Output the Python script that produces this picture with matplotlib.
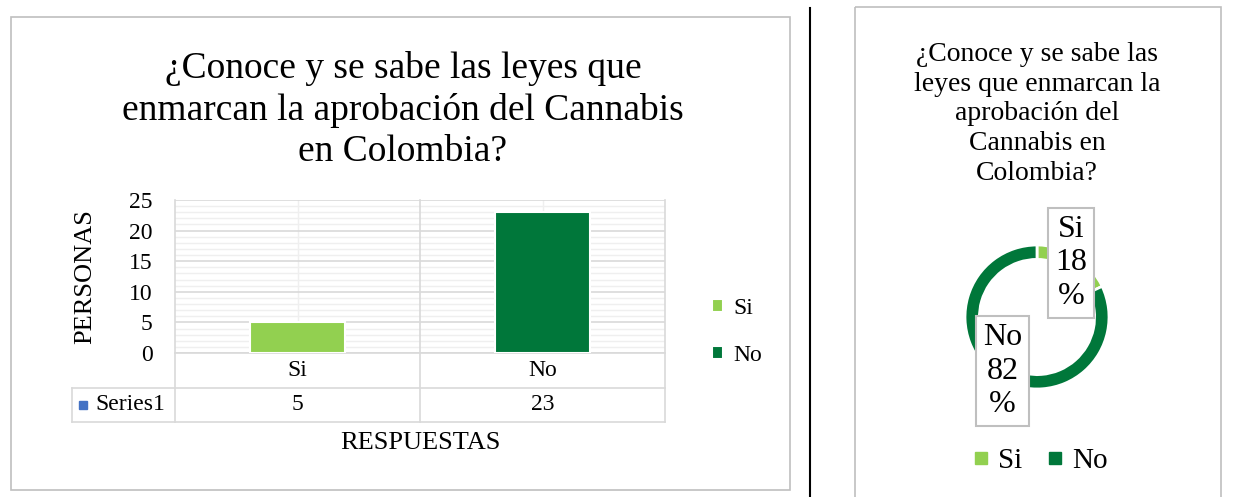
#!/usr/bin/env python3
"""Bar chart + donut for '¿Conoce y se sabe las leyes...' survey question."""

import matplotlib

matplotlib.use("Agg")
import matplotlib.pyplot as plt
from matplotlib.lines import Line2D
from matplotlib.patches import Rectangle
from matplotlib.transforms import blended_transform_factory
import numpy as np

W, H = 1259, 497

categories = ["Si", "No"]
counts = [5, 23]
shares = [18, 82]
series_name = "Series1"
y_ticks = [0, 5, 10, 15, 20, 25]

title_left = "¿Conoce y se sabe las leyes que\nenmarcan la aprobación del Cannabis\nen Colombia?"
title_right = "¿Conoce y se sabe las\nleyes que enmarcan la\naprobación del\nCannabis en\nColombia?"

colors = ["#92D050", "#00773A"]
FRAME = "#BFBFBF"
GRID = "#D9D9D9"
SMALL = 17

plt.rcParams["font.family"] = ["Liberation Serif", "DejaVu Serif"]


def box(px_left, px_top, px_w, px_h):
    return [px_left / W, 1 - (px_top + px_h) / H, px_w / W, px_h / H]


fig = plt.figure(figsize=(W / 100, H / 100), dpi=100)

# background layer in pixel coordinates
bg = fig.add_axes([0, 0, 1, 1])
bg.set_xlim(0, W)
bg.set_ylim(H, 0)
bg.axis("off")
bg.add_patch(Rectangle((11, 17), 779, 473, fill=False, edgecolor=FRAME, lw=1.2))
bg.add_patch(Rectangle((855, 7), 366, 500, fill=False, edgecolor=FRAME, lw=1.2))
bg.plot([810, 810], [8, 497], color="black", lw=1.5)

bg.text(403, 110, title_left, ha="center", va="center", fontsize=27, linespacing=1.25)
bg.text(1037, 114, title_right, ha="center", va="center", fontsize=20, linespacing=1.25)

# ---- bar chart ----
ax = fig.add_axes(box(175, 200, 490, 153))
x = np.arange(len(categories))
bars = ax.bar(x, counts, width=0.39, color=colors, edgecolor="white", lw=1.5, zorder=3)
ax.set_xlim(-0.5, len(categories) - 0.5)
ax.set_ylim(0, 25)
ax.set_yticks(y_ticks)
ax.set_yticks(np.arange(0, 26, 1), minor=True)
ax.set_xticks(x, minor=True)
ax.set_xticks(np.arange(-0.5, len(categories), 1))
ax.set_xticklabels([])
ax.grid(axis="y", which="major", color=GRID, lw=1.2, zorder=0)
ax.grid(axis="y", which="minor", color="#EFEFEF", lw=1, zorder=0)
ax.grid(axis="x", which="minor", color="#EFEFEF", lw=1, zorder=0)
ax.tick_params(axis="both", which="both", length=0)
ax.tick_params(axis="y", labelsize=SMALL, pad=16)
for s in ("top", "left", "right"):
    ax.spines[s].set_visible(False)
ax.spines["bottom"].set_color(GRID)
ax.spines["bottom"].set_linewidth(1.2)

# data table beneath the axis
tr = blended_transform_factory(ax.transData, ax.transAxes)
row = 34.5 / 153
for xv in np.arange(-0.5, len(categories), 1):
    ax.plot([xv, xv], [-2 * row, 1], color=GRID, lw=1.2, transform=tr, clip_on=False)
x_left_tbl = -0.5 - 103 / 245
for k in (1, 2):
    ax.plot([x_left_tbl, len(categories) - 0.5], [-k * row, -k * row], color=GRID,
            lw=1.2, transform=tr, clip_on=False)
ax.plot([x_left_tbl, x_left_tbl], [-2 * row, -row], color=GRID, lw=1.2,
        transform=tr, clip_on=False)
for xi, cat, val in zip(x, categories, counts):
    ax.text(xi, -0.5 * row, cat, ha="center", va="center", fontsize=SMALL, transform=tr)
    ax.text(xi, -1.5 * row, str(val), ha="center", va="center", fontsize=SMALL, transform=tr)
ax.text(-0.5 - 80 / 245, -1.5 * row, series_name, ha="left", va="center", fontsize=SMALL,
        transform=tr)
ax.plot([-0.5 - 92 / 245], [-1.5 * row], marker="s", ms=5.5, color="#4472C4", transform=tr,
        clip_on=False)

ax.set_ylabel("PERSONAS", fontsize=19, labelpad=24)
bg.text(420, 443, "RESPUESTAS", ha="center", va="center", fontsize=19)

ax.legend(bars, categories, loc="center left", bbox_to_anchor=(691 / W, 1 - 332 / H),
          bbox_transform=fig.transFigure, frameon=False, fontsize=SMALL, handlelength=0.45,
          handleheight=0.45, handletextpad=0.45, labelspacing=1.1)

# ---- donut ----
dax = fig.add_axes(box(965, 245, 144, 144))
wedges, _ = dax.pie(shares, colors=colors, startangle=90, counterclock=False, radius=1,
                    wedgeprops=dict(width=0.2, edgecolor="white", linewidth=2))
dax.set_xlim(-1, 1)
dax.set_ylim(-1, 1)
for w, cat, share in zip(wedges, categories, shares):
    ang = np.deg2rad((w.theta1 + w.theta2) / 2)
    dax.text(0.89 * np.cos(ang), 0.89 * np.sin(ang), f"{cat}\n{share}\n%", ha="center",
             va="center", fontsize=23, linespacing=1.2, zorder=5,
             bbox=dict(boxstyle="square,pad=0.22", fc="white", ec=FRAME, lw=1.5))

handles = [Line2D([], [], marker="s", ls="", ms=9, color=c) for c in colors]
fig.legend(handles, categories, loc="center", bbox_to_anchor=(1040 / W, 1 - 461 / H),
           ncol=2, frameon=False, fontsize=21, handlelength=0.6, handletextpad=0.3,
           columnspacing=0.8)

fig.savefig("out.png", dpi=100)
